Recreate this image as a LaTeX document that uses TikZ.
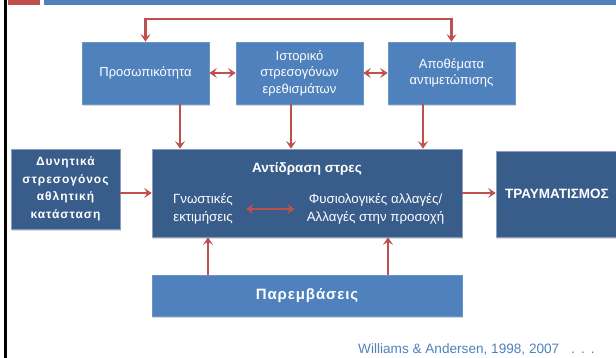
\documentclass[tikz,border=0pt]{standalone}
\usepackage{fontspec}
\setmainfont{Liberation Sans}
\usetikzlibrary{arrows.meta,shadows,calc}
\definecolor{lblue}{HTML}{4F81BD}
\definecolor{dblue}{HTML}{385D8A}
\definecolor{ared}{HTML}{C0504D}
\begin{document}
\begin{tikzpicture}[x=1pt,y=-1pt,
  box/.style={rectangle, fill=lblue, draw=lblue!85!white, line width=0.6pt, text=white, align=center,
    inner sep=0pt, drop shadow={opacity=0.3,shadow xshift=1pt,shadow yshift=-2pt},
    font=\fontsize{13}{16.5}\selectfont},
  dbox/.style={box, fill=dblue, draw=dblue!60!white},
  txt/.style={text=white, align=center, inner sep=0pt, font=\fontsize{13.3}{17.5}\selectfont},
  arr/.style={draw=ared, line width=2.3pt, -{Stealth[length=7.5pt,width=10pt,inset=3pt]}},
  darr/.style={draw=ared, line width=2.3pt, {Stealth[length=7.5pt,width=10pt,inset=3pt]}-{Stealth[length=7.5pt,width=10pt,inset=3pt]}}
]
\fill[white] (0,0) rectangle (616,358);
\useasboundingbox (0,0) rectangle (616,358);
\fill[black] (4,0) rectangle (6.5,358);
\fill[ared] (8,0) rectangle (40,4.7);
\fill[lblue] (44,0) rectangle (616,4.7);

\node[box, minimum width=127pt, minimum height=62pt] (pers) at (145.5,73) {Προσωπικότητα};
\node[box, minimum width=127pt, minimum height=62pt] (hist) at (299.5,73) {Ιστορικό\\στρεσογόνων\\ερεθισμάτων};
\node[box, minimum width=127pt, minimum height=62pt] (cope) at (451.5,73) {Αποθέματα\\αντιμετώπισης};

\node[dbox, minimum width=310pt, minimum height=88pt] (main) at (307,193) {};
\node[dbox, minimum width=109pt, minimum height=80pt, font=\bfseries\fontsize{12}{17.5}\selectfont] (left) at (65.5,189)
  {\addfontfeature{LetterSpace=8}Δυνητικά\\\addfontfeature{LetterSpace=8}στρεσογόνος\\\addfontfeature{LetterSpace=8}αθλητική\\\addfontfeature{LetterSpace=8}κατάσταση};
\node[dbox, minimum width=122pt, minimum height=86pt, font=\bfseries\fontsize{13.5}{15}\selectfont] (right) at (557,194) {ΤΡΑΥΜΑΤΙΣΜΟΣ};
\node[box, minimum width=310pt, minimum height=41pt, font=\bfseries\fontsize{15}{18}\selectfont] (interv) at (307,295.5)
  {\addfontfeature{LetterSpace=6}Παρεμβάσεις};

\node[txt, font=\bfseries\fontsize{13.5}{16}\selectfont] (title) at (307,169) {Αντίδραση στρες};
\node[txt] (gn) at (203,209) {Γνωστικές\\εκτιμήσεις};
\node[txt] (phys) at (375.5,209) {Φυσιολογικές αλλαγές/\\Αλλαγές στην προσοχή};

\node[text=lblue, inner sep=0pt, anchor=west, font=\fontsize{13.6}{16}\selectfont] (cite) at (358,349)
  {Williams \& Andersen, 1998, 2007\hspace{12pt}.\hspace{6pt}.\hspace{6pt}.};

\draw[darr] (pers.north) -- ++(0,-23) -| (cope.north);
\draw[darr] (pers.east) -- (hist.west);
\draw[darr] (hist.east) -- (cope.west);
\draw[arr] (pers.south -| 180,0) -- (main.north -| 180,0);
\draw[arr] (hist.south -| 291,0) -- (main.north -| 291,0);
\draw[arr] (cope.south -| 423,0) -- (main.north -| 423,0);
\draw[arr] (left.east |- main.west) -- (main.west);
\draw[arr] (main.east) -- (right.west |- main.east);
\draw[darr] ([xshift=13pt]gn.east) -- ([xshift=-12pt]phys.west);
\draw[arr] (interv.north -| 208,0) -- (main.south -| 208,0);
\draw[arr] (interv.north -| 388,0) -- (main.south -| 388,0);
\end{tikzpicture}
\end{document}
